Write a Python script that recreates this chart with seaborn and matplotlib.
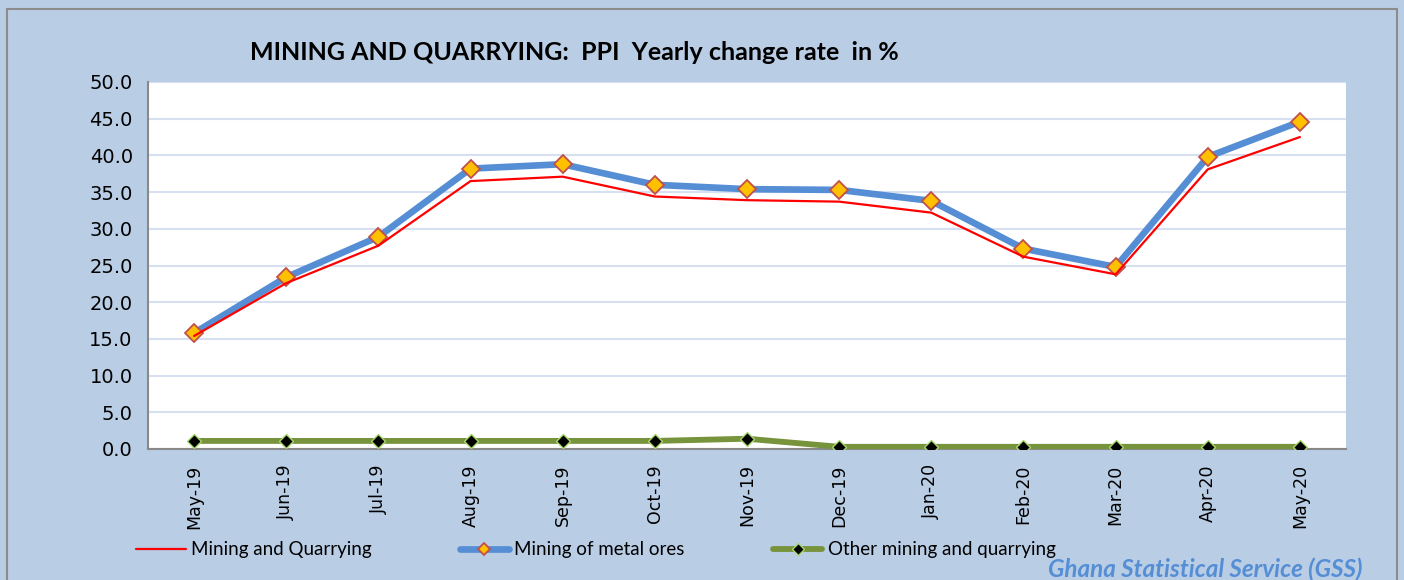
import pandas as pd
import seaborn as sns
import matplotlib.pyplot as plt
import numpy as np
from matplotlib.patches import Rectangle

months = ['May-19', 'Jun-19', 'Jul-19', 'Aug-19', 'Sep-19', 'Oct-19', 'Nov-19',
          'Dec-19', 'Jan-20', 'Feb-20', 'Mar-20', 'Apr-20', 'May-20']
mining_quarrying = [15.4, 22.6, 27.7, 36.5, 37.1, 34.4, 33.9, 33.7, 32.2, 26.2, 23.8, 38.1, 42.5]
metal_ores = [15.8, 23.4, 28.9, 38.2, 38.8, 36.0, 35.4, 35.3, 33.8, 27.3, 24.8, 39.8, 44.6]
other_mining = [1.1, 1.1, 1.1, 1.1, 1.1, 1.1, 1.4, 0.3, 0.3, 0.3, 0.3, 0.3, 0.3]

sns.set_style('white')
plt.rcParams['font.family'] = ['Lato', 'DejaVu Sans']
plt.rcParams['text.color'] = 'black'
plt.rcParams['xtick.labelcolor'] = 'black'
plt.rcParams['ytick.labelcolor'] = 'black'

bg = '#B9CDE5'
fig = plt.figure(figsize=(14.04, 5.8), dpi=100, facecolor=bg)
fig.patches.append(Rectangle((7 / 1404, -0.01), 1390 / 1404, 1 - 9 / 580 + 0.01,
                             transform=fig.transFigure, fill=False,
                             edgecolor='#8C8C8C', linewidth=1.5, zorder=0))
ax = fig.add_axes([148 / 1404, 131 / 580, 1198 / 1404, 367 / 580])
ax.set_facecolor('white')

x = np.arange(len(months))
sns.lineplot(x=x, y=mining_quarrying, ax=ax, color='#FF0000', linewidth=1.6,
             label='Mining and Quarrying', zorder=4)
sns.lineplot(x=x, y=metal_ores, ax=ax, color='#558ED5', linewidth=4.8,
             marker='D', markersize=9, markerfacecolor='#FFC000',
             markeredgecolor='#C0504D', markeredgewidth=1.3,
             label='Mining of metal ores', zorder=3)
sns.lineplot(x=x, y=other_mining, ax=ax, color='#77933C', linewidth=4.2,
             marker='D', markersize=7, markerfacecolor='black',
             markeredgecolor='#A6D96A', markeredgewidth=1.0,
             label='Other mining and quarrying', zorder=3)

tick_font = ['DejaVu Sans']
ax.set_xlim(-0.5, len(months) - 0.5)
ax.set_ylim(0, 50)
yt = np.arange(0, 50.1, 5)
ax.set_yticks(yt)
ax.set_yticklabels([f'{v:.1f}' for v in yt], fontsize=14, family=tick_font)
ax.set_xticks(x)
ax.set_xticklabels(months, rotation=90, fontsize=12.5, family=tick_font)
ax.set_xticks(np.arange(-0.5, len(months)), minor=True)
ax.tick_params(axis='x', which='major', length=0, pad=11)
ax.tick_params(axis='x', which='minor', length=7, width=1.5, color='#898989', direction='out')
ax.tick_params(axis='y', which='major', length=6, width=1.5, color='#898989', direction='out', pad=5)
ax.yaxis.grid(True, color='#D6E0F0', linewidth=1.5)
ax.set_axisbelow(True)
for s in ['top', 'right']:
    ax.spines[s].set_visible(False)
for s in ['left', 'bottom']:
    ax.spines[s].set_color('#898989')
    ax.spines[s].set_linewidth(1.5)

fig.text(250 / 1404, 1 - 52 / 580, 'MINING AND QUARRYING:  PPI  Yearly change rate  in %',
         fontsize=18, fontweight='bold', ha='left', va='center', color='black')

leg = ax.legend(loc='center left', bbox_to_anchor=(136 / 1404, 1 - 550 / 580),
                bbox_transform=fig.transFigure, ncol=3, frameon=False, fontsize=13.5,
                handlelength=2.65, handletextpad=0.27, columnspacing=4.7, borderpad=0,
                borderaxespad=0)
for h in leg.legend_handles:
    h.set_markersize(6)
for t in leg.get_texts():
    t.set_color('black')

fig.text(1362 / 1404, 1 - 569 / 580, 'Ghana Statistical Service (GSS)', color='#558ED5',
         fontsize=17.5, fontweight='bold', fontstyle='italic', ha='right', va='center')

fig.savefig('out.png', dpi=100, facecolor=bg)
